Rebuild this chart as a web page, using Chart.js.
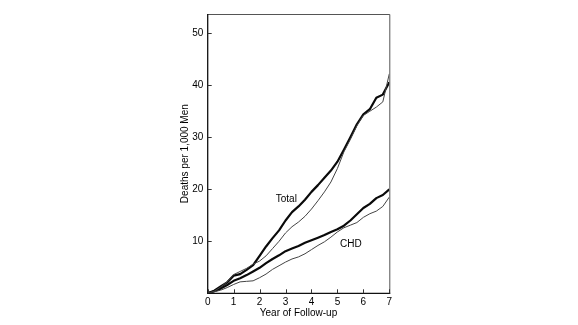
<!DOCTYPE html>
<html>
<head>
<meta charset="utf-8">
<script src="https://cdn.jsdelivr.net/npm/chart.js@4/dist/chart.umd.min.js"></script>
<style>
  html, body { margin: 0; padding: 0; background: #fff; }
  #wrap { width: 578px; height: 325px; }
</style>
</head>
<body>
<div id="wrap"><canvas id="c" width="578" height="325"></canvas></div>
<script>
// Cumulative deaths per 1,000 men by year of follow-up
const years = [0, 0.25, 0.5, 0.75, 1, 1.25, 1.5, 1.75, 2, 2.25, 2.5, 2.75, 3, 3.25, 3.5,
               3.75, 4, 4.25, 4.5, 4.75, 5, 5.25, 5.5, 5.75, 6, 6.25, 6.5, 6.75, 7];

// Total mortality: heavy curve and light curve
const totalHeavy = [0, 0.5, 1.3, 2.1, 3.4, 3.7, 4.5, 5.4, 7.2, 9.0, 10.6, 12.1, 14.0, 15.6, 16.7,
                    18.0, 19.5, 20.8, 22.2, 23.6, 25.3, 27.6, 30.0, 32.5, 34.4, 35.4, 37.6, 38.2, 40.6];
const totalLight = [0, 0.4, 1.2, 2.2, 3.6, 4.2, 4.8, 5.6, 6.2, 7.2, 8.6, 10.0, 11.6, 12.8, 13.7,
                    14.8, 16.2, 17.8, 19.5, 21.4, 24.0, 27.2, 29.6, 32.2, 34.2, 35.0, 35.8, 36.8, 42.2];

// Coronary heart disease mortality: heavy curve and light curve
const chdHeavy = [0, 0.4, 0.9, 1.6, 2.4, 2.9, 3.5, 4.2, 4.9, 5.8, 6.6, 7.3, 8.1, 8.6, 9.1,
                  9.7, 10.2, 10.7, 11.2, 11.8, 12.3, 13.0, 14.0, 15.2, 16.4, 17.2, 18.3, 18.9, 20.0];
const chdLight = [0, 0.3, 0.6, 1.1, 1.7, 2.2, 2.3, 2.4, 3.0, 3.7, 4.6, 5.3, 6.0, 6.6, 7.0,
                  7.6, 8.4, 9.2, 9.9, 10.8, 11.8, 12.6, 13.1, 13.6, 14.6, 15.3, 15.8, 16.7, 18.5];

const xTicks = [0, 1, 2, 3, 4, 5, 6, 7];
const yTicks = [10, 20, 30, 40, 50];

const curveLabels = [
  { text: 'Total', x: 3.03, y: 18.0 },
  { text: 'CHD',   x: 5.52, y: 9.35 }
];

const FONT = { family: "'Liberation Sans', Arial, Helvetica, sans-serif", size: 10 };
const INK = '#000';

const pairs = vals => years.map((t, i) => ({ x: t, y: vals[i] }));

// Frame, inward tick marks and curve captions
const framePlugin = {
  id: 'frame',
  afterDatasetsDraw(chart) {
    const { ctx, chartArea: a, scales: { x, y } } = chart;
    ctx.save();
    ctx.lineCap = 'butt';
    // top and right edges
    ctx.strokeStyle = '#555';
    ctx.lineWidth = 1;
    ctx.beginPath();
    ctx.moveTo(a.left, a.top + 0.5);
    ctx.lineTo(a.right + 0.5, a.top + 0.5);
    ctx.lineTo(a.right + 0.5, a.bottom);
    ctx.stroke();
    // left and bottom axes
    ctx.strokeStyle = '#111';
    ctx.lineWidth = 1.3;
    ctx.beginPath();
    ctx.moveTo(a.left, a.top);
    ctx.lineTo(a.left, a.bottom);
    ctx.lineTo(a.right + 1, a.bottom);
    ctx.stroke();
    // tick marks pointing into the plot
    ctx.lineWidth = 1;
    ctx.strokeStyle = '#333';
    ctx.beginPath();
    xTicks.forEach(v => {
      const px = Math.round(x.getPixelForValue(v)) + 0.5;
      ctx.moveTo(px, a.bottom);
      ctx.lineTo(px, a.bottom - 4);
    });
    yTicks.forEach(v => {
      const py = Math.round(y.getPixelForValue(v)) + 0.5;
      ctx.moveTo(a.left, py);
      ctx.lineTo(a.left + 4, py);
    });
    ctx.stroke();
    // curve captions
    ctx.fillStyle = INK;
    ctx.font = `${FONT.size}px ${FONT.family}`;
    ctx.textAlign = 'center';
    ctx.textBaseline = 'middle';
    curveLabels.forEach(l => {
      ctx.fillText(l.text, x.getPixelForValue(l.x), y.getPixelForValue(l.y));
    });
    ctx.restore();
  }
};

new Chart(document.getElementById('c'), {
  type: 'line',
  data: {
    datasets: [
      { label: 'Total', data: pairs(totalLight), borderColor: '#444', borderWidth: 1 },
      { label: 'CHD', data: pairs(chdLight), borderColor: '#444', borderWidth: 1 },
      { label: 'Total', data: pairs(totalHeavy), borderColor: '#0a0a0a', borderWidth: 2.2 },
      { label: 'CHD', data: pairs(chdHeavy), borderColor: '#0a0a0a', borderWidth: 2.2 }
    ]
  },
  options: {
    responsive: false,
    animation: false,
    devicePixelRatio: 1,
    layout: { padding: { left: 179.7, right: 188.7, top: 14, bottom: 6 } },
    elements: {
      point: { radius: 0, hoverRadius: 0 },
      line: { tension: 0, fill: false, borderJoinStyle: 'round' }
    },
    plugins: { legend: { display: false }, tooltip: { enabled: false } },
    scales: {
      x: {
        type: 'linear',
        min: 0, max: 7,
        afterBuildTicks: s => { s.ticks = xTicks.map(v => ({ value: v })); },
        afterFit: s => { s.height = 25.7; },
        grid: { display: false, drawTicks: false },
        border: { display: false },
        ticks: { padding: 3, font: FONT, color: INK, maxRotation: 0, autoSkip: false },
        title: { display: true, text: 'Year of Follow-up', font: FONT, color: INK, padding: 0 }
      },
      y: {
        type: 'linear',
        min: 0, max: 53.7,
        afterBuildTicks: s => { s.ticks = yTicks.map(v => ({ value: v })); },
        afterFit: s => { s.width = 28.0; },
        grid: { display: false, drawTicks: false },
        border: { display: false },
        ticks: { padding: 4.4, font: FONT, color: INK },
        title: { display: true, text: 'Deaths per 1,000 Men', font: FONT, color: INK, padding: 0 }
      }
    }
  },
  plugins: [framePlugin]
});
</script>
</body>
</html>
